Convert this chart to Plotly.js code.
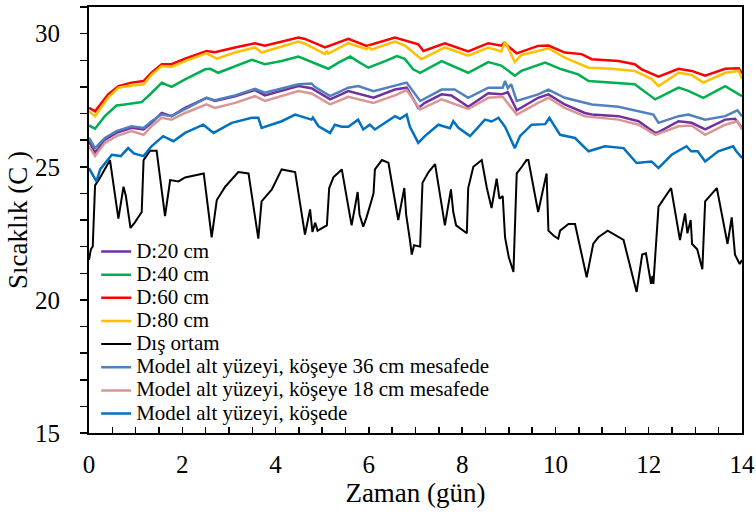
<!DOCTYPE html>
<html>
<head>
<meta charset="utf-8">
<script src="https://cdn.plot.ly/plotly-3.0.1.min.js"></script>
<style>html,body{margin:0;padding:0;background:#fff;}#chart{width:756px;height:517px;}</style>
</head>
<body>
<div id="chart"></div>
<script>
// D:20 cm
const d20_x = [0.0,0.13,0.34,0.59,0.91,1.17,1.34,1.56,1.77,2.06,2.52,2.7,3.13,3.56,3.77,4.49,4.77,5.17,5.56,6.1,6.56,6.81,7.06,7.2,7.56,7.77,8.13,8.56,8.84,8.98,9.17,9.63,9.85,10.2,10.63,10.78,11.35,11.78,12.14,12.21,12.64,12.92,13.21,13.64,13.85,14.0];
const d20_y = [25.96,25.52,26.02,26.27,26.46,26.4,26.65,27.02,26.9,27.21,27.59,27.47,27.65,27.88,27.68,28.03,27.95,27.53,27.84,27.59,27.9,27.97,27.21,27.4,27.72,27.68,27.25,27.76,27.72,27.8,27.12,27.59,27.72,27.34,27.02,26.96,26.9,26.71,26.27,26.3,26.71,26.65,26.4,26.77,26.8,26.46];
// D:40 cm
const d40_x = [0.0,0.13,0.34,0.59,0.77,1.13,1.34,1.56,1.77,2.06,2.49,2.6,2.77,3.06,3.49,3.77,4.13,4.49,4.84,5.13,5.34,5.6,5.77,5.99,6.35,6.6,6.77,6.95,7.1,7.56,8.13,8.56,8.84,9.13,9.27,9.78,10.13,10.49,10.71,11.2,11.7,12.14,12.64,12.85,13.17,13.64,14.0];
const d40_y = [26.55,26.43,26.9,27.3,27.34,27.43,27.77,28.16,28.0,28.28,28.66,28.68,28.53,28.72,29.02,28.85,28.97,29.14,28.9,28.68,28.9,29.14,28.95,28.72,28.97,29.16,29.05,28.66,28.53,28.97,28.53,28.93,28.8,28.42,28.6,28.91,28.66,28.47,28.22,28.16,28.1,27.53,27.97,27.85,27.59,28.03,27.65];
// D:60 cm
const d60_x = [0.0,0.13,0.41,0.63,0.91,1.17,1.34,1.56,1.77,2.06,2.52,2.7,3.13,3.56,3.77,4.49,4.63,5.06,5.56,5.95,6.56,6.78,7.06,7.17,7.63,8.13,8.56,8.84,8.9,9.17,9.63,9.85,10.2,10.56,10.78,11.35,11.7,11.85,12.21,12.64,12.92,13.21,13.64,13.93,14.0];
const d60_y = [27.21,27.08,27.72,28.03,28.16,28.22,28.53,28.85,28.85,29.06,29.35,29.3,29.48,29.64,29.55,29.85,29.8,29.48,29.8,29.54,29.85,29.73,29.6,29.35,29.64,29.33,29.64,29.55,29.65,29.26,29.54,29.55,29.29,29.23,29.04,28.97,28.85,28.66,28.38,28.68,28.6,28.42,28.68,28.7,28.5];
// D:80 cm
const d80_x = [0.0,0.13,0.41,0.63,0.91,1.17,1.34,1.56,1.77,2.06,2.52,2.74,3.13,3.56,3.7,4.49,4.63,5.06,5.1,5.13,5.56,5.95,6.0,6.05,6.56,6.78,7.13,7.63,8.13,8.56,8.84,8.92,9.13,9.27,9.63,9.85,10.2,10.71,11.2,11.7,12.06,12.21,12.64,12.92,13.17,13.64,13.93,14.0];
const d80_y = [27.08,26.9,27.6,27.97,28.05,28.1,28.45,28.78,28.75,28.97,29.26,29.06,29.29,29.48,29.29,29.7,29.62,29.23,29.35,29.25,29.64,29.42,29.5,29.4,29.7,29.54,29.04,29.48,29.17,29.48,29.33,29.7,28.93,29.2,29.35,29.45,29.1,28.72,28.68,28.6,28.3,28.03,28.53,28.45,28.16,28.53,28.6,28.3];
// Dış ortam
const dis_x = [0.0,0.04,0.08,0.13,0.24,0.41,0.45,0.63,0.74,0.79,0.89,0.98,1.13,1.17,1.31,1.45,1.63,1.74,1.92,2.06,2.42,2.46,2.63,2.74,2.92,3.2,3.42,3.63,3.7,3.92,4.13,4.42,4.63,4.74,4.79,4.85,4.9,5.1,5.15,5.24,5.42,5.63,5.76,5.8,5.88,5.95,6.06,6.1,6.13,6.28,6.42,6.63,6.76,6.8,6.88,6.92,6.97,7.1,7.15,7.28,7.42,7.63,7.76,7.81,7.87,8.1,8.13,8.24,8.42,8.53,8.63,8.74,8.8,8.87,8.92,9.0,9.1,9.17,9.28,9.38,9.42,9.63,9.81,9.85,9.97,10.06,10.1,10.28,10.42,10.67,10.81,10.92,11.12,11.46,11.74,11.86,11.94,12.05,12.08,12.1,12.21,12.48,12.67,12.78,12.83,12.9,12.93,13.04,13.15,13.21,13.46,13.69,13.78,13.85,13.95,14.0];
const dis_y = [21.5,21.9,22.0,24.3,24.6,25.15,25.25,23.05,24.25,23.9,22.7,22.9,23.3,25.25,25.6,25.6,23.15,24.5,24.45,24.6,24.75,24.75,22.35,23.75,24.25,24.8,24.75,22.3,23.7,24.15,24.9,24.8,22.45,23.4,22.55,22.9,22.6,22.8,24.2,24.6,24.9,22.8,24.05,23.2,22.75,23.1,23.75,24.0,24.9,25.25,25.15,23.0,24.2,23.2,22.25,21.7,22.05,22.0,24.4,24.8,25.1,22.8,24.15,23.3,22.8,22.5,24.2,25.0,25.25,24.2,23.45,24.55,23.8,23.9,22.35,21.6,21.05,24.75,25.0,25.25,25.25,23.3,24.75,22.6,22.4,22.3,22.6,22.85,22.85,20.85,22.1,22.35,22.6,22.25,20.3,21.7,21.75,20.6,20.9,20.6,23.5,24.2,22.25,23.25,22.5,23.0,22.1,21.9,21.15,23.7,24.2,22.1,23.1,21.7,21.35,21.5];
// Model alt yüzeyi, köşeye 36 cm mesafede
const m36_x = [0.0,0.13,0.34,0.59,0.91,1.17,1.34,1.56,1.77,2.06,2.52,2.7,3.13,3.56,3.77,4.49,4.77,4.84,5.17,5.56,5.77,6.1,6.56,6.81,7.1,7.56,7.84,8.13,8.56,8.87,8.92,8.98,9.05,9.17,9.63,9.85,10.2,10.78,11.35,11.78,12.1,12.21,12.64,12.85,13.21,13.64,13.9,14.0];
const m36_y = [26.08,25.7,26.08,26.34,26.52,26.46,26.71,26.96,26.9,27.17,27.59,27.5,27.68,27.93,27.78,28.1,28.13,28.0,27.65,27.97,28.03,27.84,28.03,28.16,27.47,27.9,27.9,27.59,27.97,27.97,28.22,27.95,28.1,27.47,27.72,27.9,27.59,27.34,27.25,27.08,26.96,26.65,26.9,26.96,26.77,26.9,27.12,26.9];
// Model alt yüzeyi, köşeye 18 cm mesafede
const m18_x = [0.0,0.13,0.34,0.59,0.91,1.17,1.34,1.56,1.77,2.06,2.52,2.7,3.13,3.56,3.77,4.49,4.77,5.17,5.56,6.1,6.56,6.81,7.1,7.56,8.13,8.56,8.87,9.17,9.63,9.85,10.2,10.63,11.35,11.78,12.14,12.64,12.92,13.21,13.64,13.9,14.0];
const m18_y = [25.77,25.4,25.9,26.15,26.34,26.2,26.52,26.84,26.77,27.02,27.34,27.21,27.4,27.65,27.47,27.84,27.75,27.34,27.63,27.4,27.68,27.88,27.15,27.53,27.17,27.59,27.63,26.96,27.4,27.59,27.21,26.9,26.77,26.58,26.2,26.52,26.55,26.2,26.58,26.71,26.4];
// Model alt yüzeyi, köşede
const kose_x = [0.0,0.16,0.24,0.49,0.68,0.84,0.96,1.17,1.34,1.59,1.81,2.06,2.45,2.67,3.06,3.49,3.63,3.7,4.13,4.42,4.77,4.8,4.92,5.17,5.27,5.42,5.56,5.77,5.88,6.02,6.13,6.56,6.67,6.81,6.88,7.06,7.2,7.49,7.74,7.81,7.92,8.17,8.49,8.63,8.78,8.92,9.13,9.24,9.49,9.78,9.87,10.1,10.42,10.71,11.06,11.46,11.74,12.06,12.21,12.49,12.81,12.91,13.05,13.21,13.49,13.67,13.81,13.87,14.0];
const kose_y = [24.95,24.45,24.9,25.45,25.4,25.7,25.5,25.4,25.77,26.15,25.96,26.27,26.58,26.27,26.65,26.84,26.84,26.46,26.71,26.96,26.77,26.85,26.52,26.27,26.58,26.5,26.5,26.77,26.4,26.58,26.4,26.9,26.8,26.96,26.5,25.9,26.15,26.58,26.45,26.71,26.46,26.15,26.77,26.7,26.84,26.5,25.7,26.15,26.58,26.6,26.84,26.2,26.08,25.58,25.77,25.7,25.14,25.2,24.95,25.45,25.77,25.58,25.58,25.2,25.58,25.7,25.77,25.6,25.33];

const names = ["D:20 cm","D:40 cm","D:60 cm","D:80 cm","Dış ortam",
  "Model alt yüzeyi, köşeye 36 cm mesafede","Model alt yüzeyi, köşeye 18 cm mesafede","Model alt yüzeyi, köşede"];
const colors = ["#7030A0","#00B050","#FF0000","#FFC000","#000000","#4F81BD","#D99694","#0070C0"];
const xs = [d20_x,d40_x,d60_x,d80_x,dis_x,m36_x,m18_x,kose_x];
const ys = [d20_y,d40_y,d60_y,d80_y,dis_y,m36_y,m18_y,kose_y];

const traces = names.map((n,i)=>({
  x: xs[i], y: ys[i], type: 'scatter', mode: 'lines', name: '<span style="font-size:21px">'+n+'</span>',
  line: {color: colors[i], width: i===4 ? 2 : 2.5}
}));

const layout = {
  width: 756, height: 517,
  margin: {l: 89, r: 14, t: 7, b: 84},
  paper_bgcolor: '#fff', plot_bgcolor: '#fff',
  font: {family: '"Liberation Serif", "Times New Roman", serif', color: '#000'},
  showlegend: true,
  legend: {x: 0.011, xanchor: 'left', y: 0.465, yanchor: 'top', bgcolor: 'rgba(0,0,0,0)',
    font: {size: 15.5, family: '"Liberation Serif", serif', color: '#000'}},
  xaxis: {
    range: [0, 14], dtick: 2, tick0: 0, ticks: 'inside', ticklen: 6, tickwidth: 1.5, tickcolor: '#000',
    minor: {dtick: 0.5, ticks: 'inside', ticklen: 6, tickwidth: 1.5, tickcolor: '#000'},
    showline: true, linewidth: 2, linecolor: '#000', mirror: true, showgrid: false, zeroline: false,
    ticklabelstandoff: 8,
    tickfont: {size: 25}, title: {text: 'Zaman (gün)', font: {size: 27}, standoff: 6}
  },
  yaxis: {
    range: [15, 31], tickvals: [15, 20, 25, 30], ticks: 'outside', ticklen: 7, tickwidth: 1.5, tickcolor: '#000',
    minor: {dtick: 1, tick0: 15, ticks: 'outside', ticklen: 7, tickwidth: 1.5, tickcolor: '#000'},
    showline: true, linewidth: 2, linecolor: '#000', mirror: true, showgrid: false, zeroline: false,
    ticklabelstandoff: 15,
    tickfont: {size: 25}, title: {text: 'Sıcaklık (C )', font: {size: 27}, standoff: 0}
  }
};
Plotly.newPlot('chart', traces, layout, {displayModeBar: false, staticPlot: true});
</script>
</body>
</html>
